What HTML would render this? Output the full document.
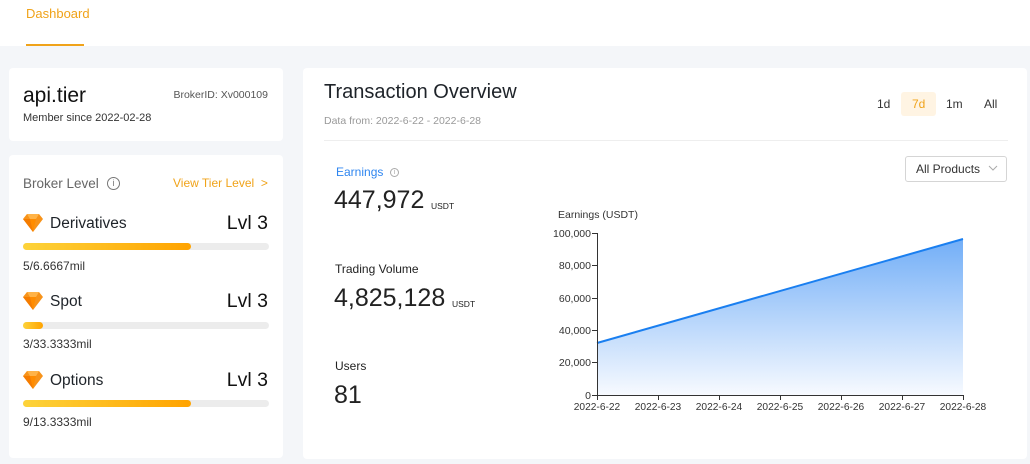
<!DOCTYPE html>
<html><head><meta charset="utf-8">
<style>
*{margin:0;padding:0;box-sizing:border-box}
html,body{width:1030px;height:464px;overflow:hidden;background:#f4f6f9;font-family:"Liberation Sans",Arial,sans-serif;color:#1e2329}
.abs{position:absolute;white-space:nowrap}
.top{position:absolute;left:0;top:0;width:1030px;height:46px;background:#fff}
.card{position:absolute;background:#fff;border-radius:4px}
.bar{position:absolute;left:23px;width:246px;height:7px;border-radius:4px;background:#ececec}
.bar i{position:absolute;left:0;top:0;height:7px;border-radius:4px;background:linear-gradient(90deg,#fdd33a,#ffa300)}
.gem{position:absolute;left:23px;width:20px;height:19px}
</style></head><body>
<div class="top"></div>
<div class="abs" style="left:26px;top:6px;font-size:13px;color:#f0a31a">Dashboard</div>
<div class="abs" style="left:26px;top:44px;width:58px;height:2px;background:#f0a31a"></div>

<div class="card" style="left:9px;top:68px;width:274px;height:73px"></div>
<div class="abs" style="left:23px;top:84px;font-size:21px;color:#111">api.tier</div>
<div class="abs" style="left:150px;top:89px;width:118px;text-align:right;font-size:10.5px;color:#555">BrokerID: Xv000109</div>
<div class="abs" style="left:23px;top:112px;font-size:11px;color:#333">Member since 2022-02-28</div>

<div class="card" style="left:9px;top:155px;width:274px;height:303px"></div>
<div class="abs" style="left:23px;top:176px;font-size:13.5px;color:#666">Broker Level</div>
<div class="abs" style="left:107px;top:177px;width:13px;height:13px;border:1px solid #777;border-radius:50%;font-size:9px;line-height:11px;text-align:center;color:#777">i</div>
<div class="abs" style="left:173px;top:176px;font-size:12px;color:#f0a31a">View Tier Level&nbsp;&nbsp;&gt;</div>

<svg class="gem" style="top:213px" viewBox="0 0 20 19"><polygon points="4,1 16,1 20,6 10,19 0,6" fill="#f7931a"/><polygon points="4,1 16,1 13,6 7,6" fill="#ffb347"/><polygon points="7,6 13,6 10,19" fill="#ff8c00"/><polygon points="0,6 7,6 10,19" fill="#f57c00"/></svg>
<div class="abs" style="left:50px;top:215px;font-size:15.5px">Derivatives</div>
<div class="abs" style="left:200px;top:212px;width:68px;text-align:right;font-size:19.5px;color:#111">Lvl 3</div>
<div class="bar" style="top:243px"><i style="width:168px"></i></div>
<div class="abs" style="left:23px;top:259px;font-size:12px;color:#333">5/6.6667mil</div>

<svg class="gem" style="top:291px" viewBox="0 0 20 19"><polygon points="4,1 16,1 20,6 10,19 0,6" fill="#f7931a"/><polygon points="4,1 16,1 13,6 7,6" fill="#ffb347"/><polygon points="7,6 13,6 10,19" fill="#ff8c00"/><polygon points="0,6 7,6 10,19" fill="#f57c00"/></svg>
<div class="abs" style="left:50px;top:293px;font-size:15.5px">Spot</div>
<div class="abs" style="left:200px;top:290px;width:68px;text-align:right;font-size:19.5px;color:#111">Lvl 3</div>
<div class="bar" style="top:322px"><i style="width:20px"></i></div>
<div class="abs" style="left:23px;top:337px;font-size:12px;color:#333">3/33.3333mil</div>

<svg class="gem" style="top:370px" viewBox="0 0 20 19"><polygon points="4,1 16,1 20,6 10,19 0,6" fill="#f7931a"/><polygon points="4,1 16,1 13,6 7,6" fill="#ffb347"/><polygon points="7,6 13,6 10,19" fill="#ff8c00"/><polygon points="0,6 7,6 10,19" fill="#f57c00"/></svg>
<div class="abs" style="left:50px;top:372px;font-size:15.5px">Options</div>
<div class="abs" style="left:200px;top:369px;width:68px;text-align:right;font-size:19.5px;color:#111">Lvl 3</div>
<div class="bar" style="top:400px"><i style="width:168px"></i></div>
<div class="abs" style="left:23px;top:415px;font-size:12px;color:#333">9/13.3333mil</div>

<div class="card" style="left:303px;top:68px;width:724px;height:391px"></div>
<div class="abs" style="left:324px;top:81px;font-size:20px;color:#1e2329">Transaction Overview</div>
<div class="abs" style="left:324px;top:115px;font-size:10.5px;color:#999">Data from: 2022-6-22 - 2022-6-28</div>
<div class="abs" style="left:324px;top:140px;width:684px;height:1px;background:#eee"></div>

<div class="abs" style="left:877px;top:97px;font-size:12px;color:#333">1d</div>
<div class="abs" style="left:901px;top:92px;width:35px;height:24px;background:#fff4e3;border-radius:3px"></div>
<div class="abs" style="left:912px;top:97px;font-size:12px;color:#f0a31a">7d</div>
<div class="abs" style="left:946px;top:97px;font-size:12px;color:#333">1m</div>
<div class="abs" style="left:984px;top:97px;font-size:12px;color:#333">All</div>

<div class="abs" style="left:905px;top:156px;width:102px;height:26px;border:1px solid #d5d5d5;border-radius:3px"></div>
<div class="abs" style="left:916px;top:162px;font-size:12px;color:#333">All Products</div>
<svg class="abs" style="left:988px;top:165px" width="10" height="7"><polyline points="1,1 5,5 9,1" fill="none" stroke="#aaa" stroke-width="1"/></svg>

<div class="abs" style="left:336px;top:165px;font-size:12px;color:#2f86f0">Earnings</div>
<div class="abs" style="left:390px;top:168px;width:9px;height:9px;border:1px solid #aaa;border-radius:50%;font-size:7px;line-height:8px;text-align:center;color:#aaa">i</div>
<div class="abs" style="left:334px;top:186px;font-size:25px;color:#222">447,972</div>
<div class="abs" style="left:431px;top:201px;font-size:8.5px;color:#222">USDT</div>

<div class="abs" style="left:335px;top:262px;font-size:12px;color:#222">Trading Volume</div>
<div class="abs" style="left:334px;top:284px;font-size:25px;color:#222">4,825,128</div>
<div class="abs" style="left:452px;top:299px;font-size:8.5px;color:#222">USDT</div>

<div class="abs" style="left:335px;top:359px;font-size:12px;color:#222">Users</div>
<div class="abs" style="left:334px;top:381px;font-size:25px;color:#222">81</div>

<svg class="abs" style="left:0;top:0" width="1030" height="464">
<defs><linearGradient id="g" x1="0" y1="0" x2="0" y2="1">
<stop offset="0" stop-color="#72aef7"/><stop offset="1" stop-color="#f7faff"/></linearGradient></defs>
<polygon points="597,343 963,239 963,395 597,395" fill="url(#g)"/>
<polyline points="597,343 963,239" fill="none" stroke="#1a7ff0" stroke-width="2"/>
<g stroke="#333" stroke-width="1">
<line x1="597.5" y1="233" x2="597.5" y2="395"/>
<line x1="597" y1="395.5" x2="963.5" y2="395.5"/>
<line x1="592" y1="233.5" x2="597" y2="233.5"/>
<line x1="592" y1="265.5" x2="597" y2="265.5"/>
<line x1="592" y1="298.5" x2="597" y2="298.5"/>
<line x1="592" y1="330.5" x2="597" y2="330.5"/>
<line x1="592" y1="362.5" x2="597" y2="362.5"/>
<line x1="592" y1="395.5" x2="597" y2="395.5"/>
<line x1="597.5" y1="395" x2="597.5" y2="400"/>
<line x1="658.5" y1="395" x2="658.5" y2="400"/>
<line x1="719.5" y1="395" x2="719.5" y2="400"/>
<line x1="780.5" y1="395" x2="780.5" y2="400"/>
<line x1="841.5" y1="395" x2="841.5" y2="400"/>
<line x1="902.5" y1="395" x2="902.5" y2="400"/>
<line x1="963.5" y1="395" x2="963.5" y2="400"/>
</g>
<g font-family="Liberation Sans, Arial, sans-serif" font-size="10.5" fill="#333">
<text x="558" y="218">Earnings (USDT)</text>
<g text-anchor="end">
<text x="591" y="237">100,000</text>
<text x="591" y="269">80,000</text>
<text x="591" y="302">60,000</text>
<text x="591" y="334">40,000</text>
<text x="591" y="366">20,000</text>
<text x="591" y="399">0</text>
</g>
<g text-anchor="middle" font-size="10.2">
<text x="597" y="410">2022-6-22</text>
<text x="658" y="410">2022-6-23</text>
<text x="719" y="410">2022-6-24</text>
<text x="780" y="410">2022-6-25</text>
<text x="841" y="410">2022-6-26</text>
<text x="902" y="410">2022-6-27</text>
<text x="963" y="410">2022-6-28</text>
</g>
</g>
</svg>
</body></html>
